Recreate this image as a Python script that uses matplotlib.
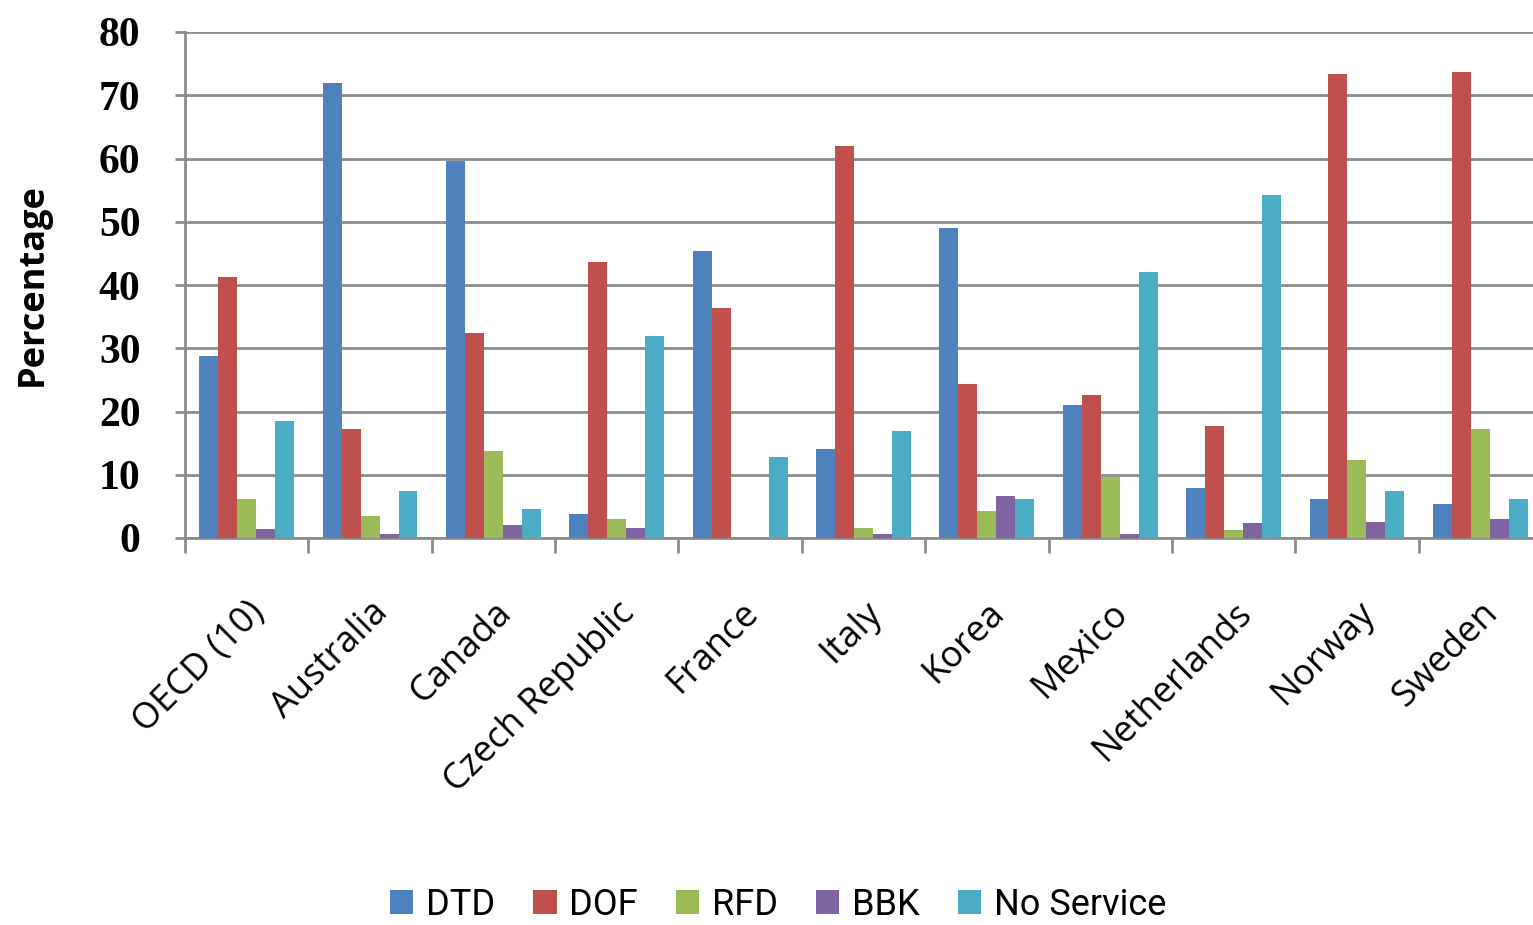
import numpy as np
import matplotlib.pyplot as plt
from matplotlib.ticker import FixedLocator

countries = ['OECD (10)', 'Australia', 'Canada', 'Czech Republic', 'France', 'Italy',
             'Korea', 'Mexico', 'Netherlands', 'Norway', 'Sweden']
series = ['DTD', 'DOF', 'RFD', 'BBK', 'No Service']

dtd = [28.8, 72.0, 59.6, 3.8, 45.3, 14.0, 49.0, 21.0, 7.9, 6.2, 5.4]
dof = [41.2, 17.3, 32.4, 43.6, 36.3, 62.0, 24.3, 22.6, 17.7, 73.3, 73.7]
rfd = [6.2, 3.4, 13.7, 3.0, 0.0, 1.6, 4.2, 9.7, 1.2, 12.4, 17.3]
bbk = [1.5, 0.7, 2.0, 1.6, 0.0, 0.7, 6.7, 0.7, 2.3, 2.6, 3.0]
no_service = [18.5, 7.5, 4.6, 32.0, 12.8, 16.9, 6.2, 42.0, 54.3, 7.5, 6.2]

colors = ['#4F81BD', '#C0504D', '#9BBB59', '#8064A2', '#4BACC6']
grey = '#8c8c8c'

fig = plt.figure(figsize=(15.33, 9.25), dpi=100)
ax = fig.add_axes([185/1533, 387/925, (1542-185)/1533, 506/925])

x = np.arange(len(countries))
width = 1/6.5
for i, (vals, name) in enumerate(zip([dtd, dof, rfd, bbk, no_service], series)):
    ax.bar(x + (i-2)*width, vals, width, color=colors[i], label=name, zorder=3)

ax.set_xlim(-0.5, len(countries)-0.5)
ax.set_ylim(0, 80)
ax.set_yticks(np.arange(0, 81, 10))
ax.yaxis.grid(True, color=grey, linewidth=2, zorder=0)

# category boundaries get the tick marks, labels sit on centres
ax.xaxis.set_major_locator(FixedLocator(np.arange(-0.5, len(countries), 1)))
ax.set_xticklabels([])
ax.set_xticks(x, minor=True)
ax.set_xticklabels(countries, minor=True, rotation=45, ha='right',
                   rotation_mode='anchor', family='Open Sans', fontsize=26)
ax.tick_params(axis='x', which='minor', length=0, pad=41)
ax.tick_params(axis='x', which='major', length=11, width=2, color=grey, direction='out')
ax.tick_params(axis='y', length=7, width=2, color=grey, pad=25)
for lab in ax.get_yticklabels():
    lab.set_family('Liberation Serif')
    lab.set_fontsize(30)
    lab.set_fontweight('bold')

for s in ['top', 'right']:
    ax.spines[s].set_visible(False)
for s in ['left', 'bottom']:
    ax.spines[s].set_color(grey)
    ax.spines[s].set_linewidth(2)

fig.text(33/1533, 1 - 285/925, 'Percentage', rotation=90, ha='center', va='center',
         family='Open Sans', fontweight='bold', fontsize=26)

fig.legend(loc='center', bbox_to_anchor=(778/1533, 1 - 905/925), ncol=5, frameon=False,
           prop={'family': 'Roboto', 'size': 26},
           handlelength=0.65, handleheight=0.65, handletextpad=0.35, columnspacing=1.05)

fig.savefig('out.png', dpi=100)
